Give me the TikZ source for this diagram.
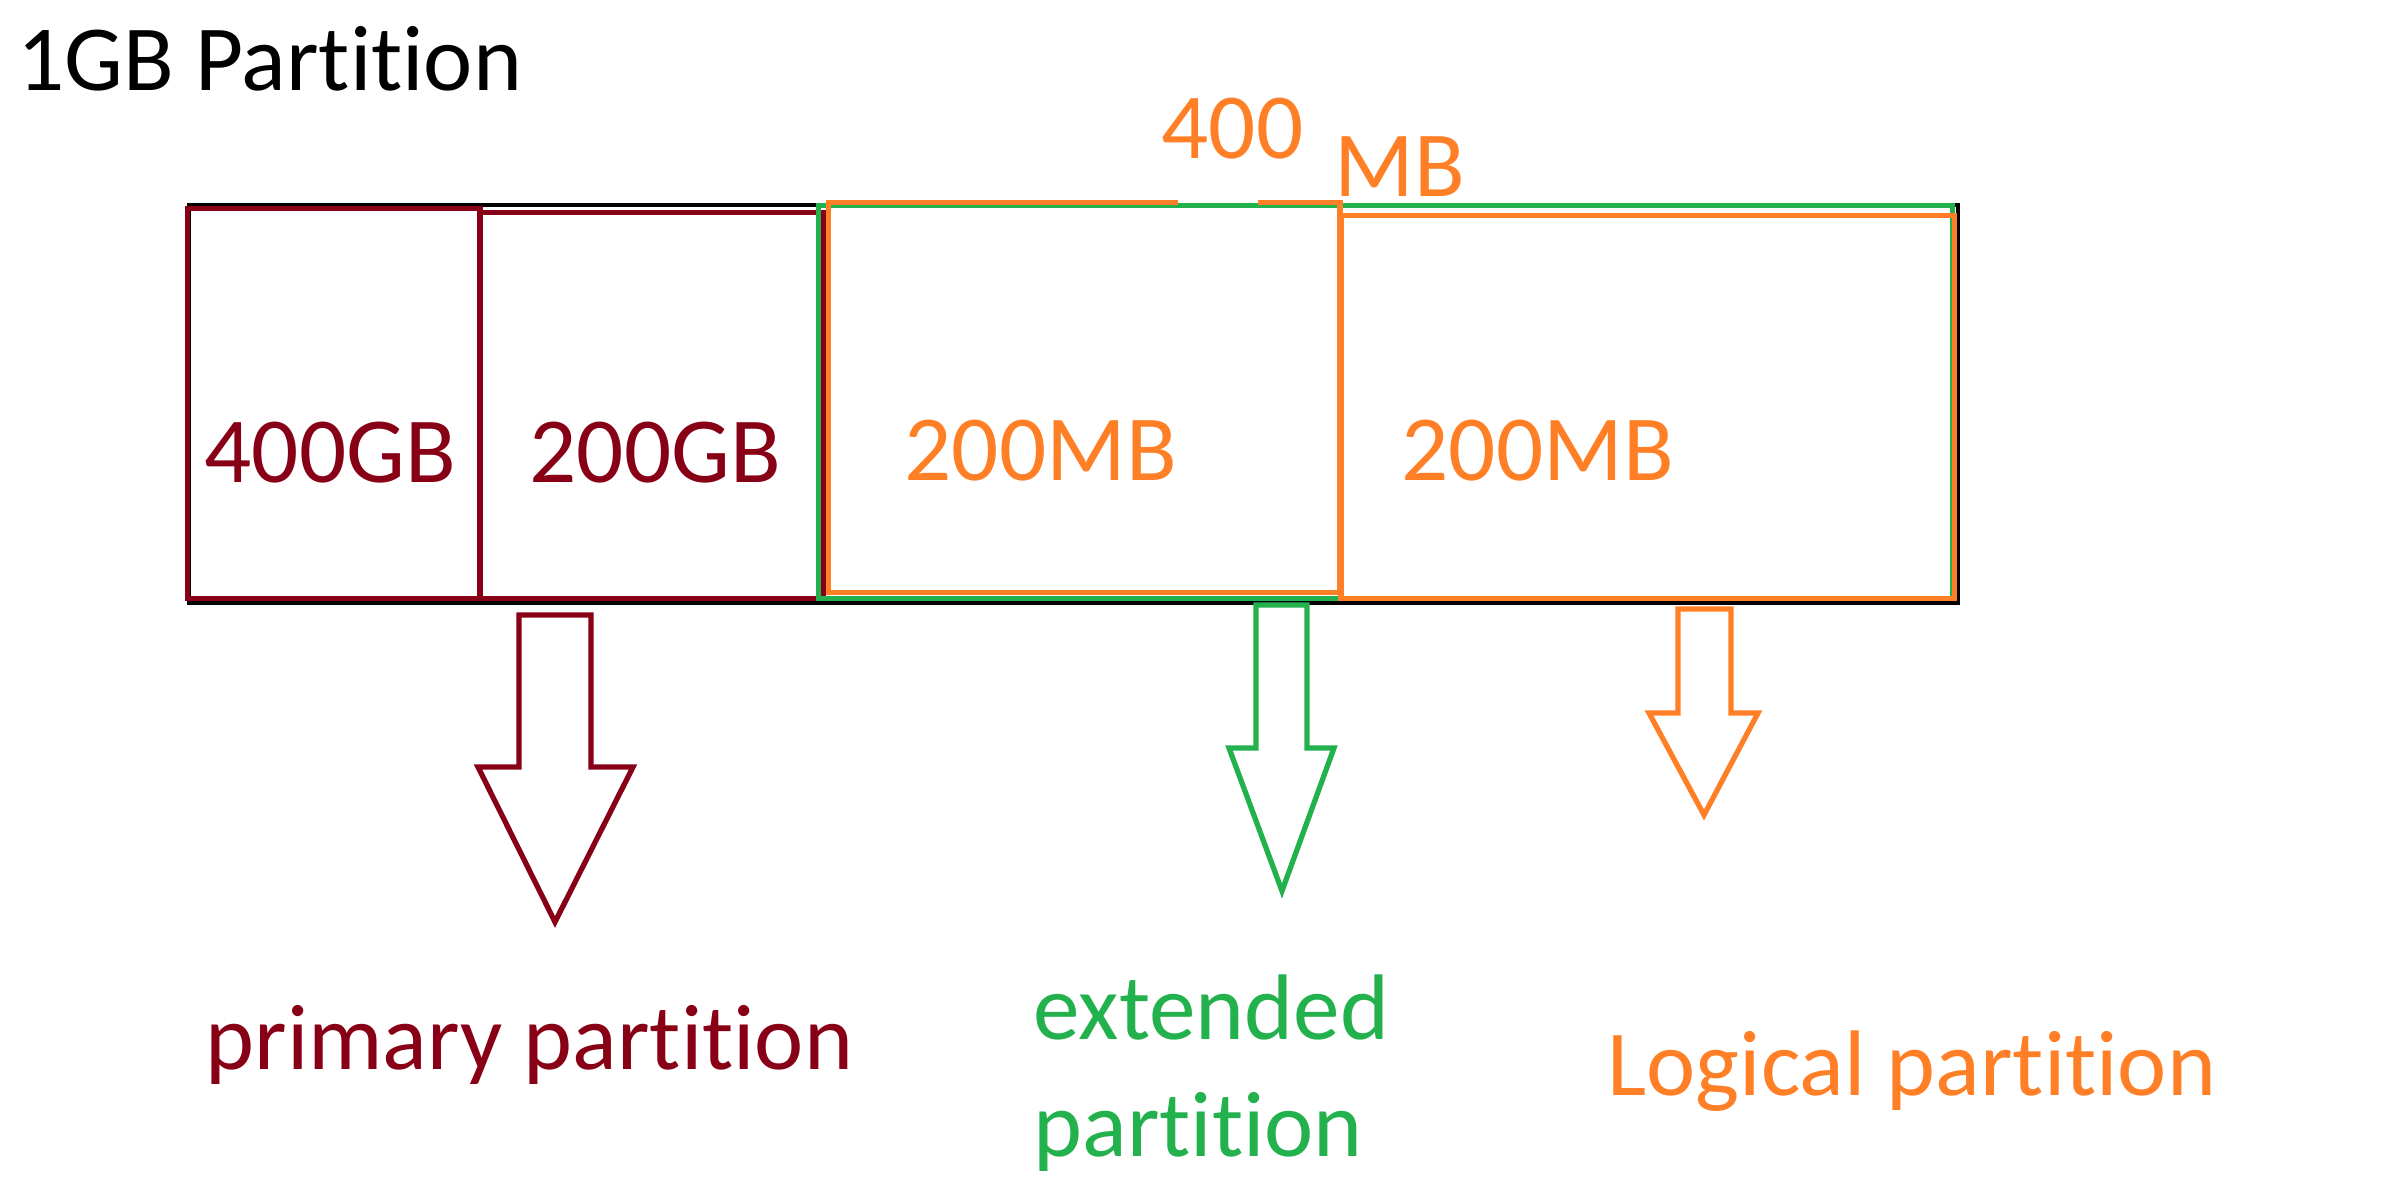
\documentclass[tikz,border=0pt]{standalone}
\usepackage{fontspec}
\setmainfont{Carlito}[Ligatures=NoCommon]
\usepackage{tikz}

\definecolor{diskred}{RGB}{136,0,21}
\definecolor{diskgreen}{RGB}{34,177,76}
\definecolor{diskorange}{RGB}{255,127,39}

\begin{document}
\begin{tikzpicture}[x=0.01cm, y=-0.01cm, line width=1.5pt,
  lbl/.style={anchor=base west, inner sep=0pt, font=\fontsize{26.5}{30}\selectfont}]
\useasboundingbox (0,0) rectangle (2381,1201);

% Title
\node[lbl] (title) at (15,91) {1GB Partition};

% Whole disk
\draw[black, line width=1.2pt] (189,205) rectangle (1958,603);

% Primary partitions
\draw[diskred] (187.5,208.5) rectangle (480,598.5);
\draw[diskred] (480,212.5) rectangle (823,598.5);
\node[lbl, diskred] (p400) at (202,483) {400GB};
\node[lbl, diskred] (p200) at (527,483) {200GB};

% Extended partition
\draw[diskgreen] (818.5,205.5) rectangle (1952.5,598.5);

% Logical partitions (gap in the top line under the label)
\draw[diskorange] (1178,202.5) -| (828.5,592.5) -| (1340,202.5) -- (1258,202.5);
\draw[diskorange] (1341,215.5) rectangle (1954.5,598.5);
\node[lbl, diskorange] (l1) at (902,481) {200MB};
\node[lbl, diskorange] (l2) at (1399,481) {200MB};
\node[lbl, diskorange] (ext400) at (1159,159) {400};
\node[lbl, diskorange] (extmb) at (1332,197) {MB};

% Arrows
\draw[diskred] (519,615) -- (591,615) -- (591,767) -- (633,767) -- (555,922)
  -- (478,767) -- (519,767) -- cycle;
\draw[diskgreen] (1256,605) -- (1307,605) -- (1307,748) -- (1334,748) -- (1282,891)
  -- (1229,748) -- (1256,748) -- cycle;
\draw[diskorange] (1678,609) -- (1731,609) -- (1731,713) -- (1758,713) -- (1704,815)
  -- (1649,713) -- (1678,713) -- cycle;

% Captions
\node[lbl, diskred] (prim) at (203,1070) {primary partition};
\node[lbl, diskgreen] (ext1) at (1031,1040) {extended};
\node[lbl, diskgreen] (ext2) at (1031,1157) {partition};
\node[lbl, diskorange] (logi) at (1605,1096) {Logical partition};

\end{tikzpicture}
\end{document}
